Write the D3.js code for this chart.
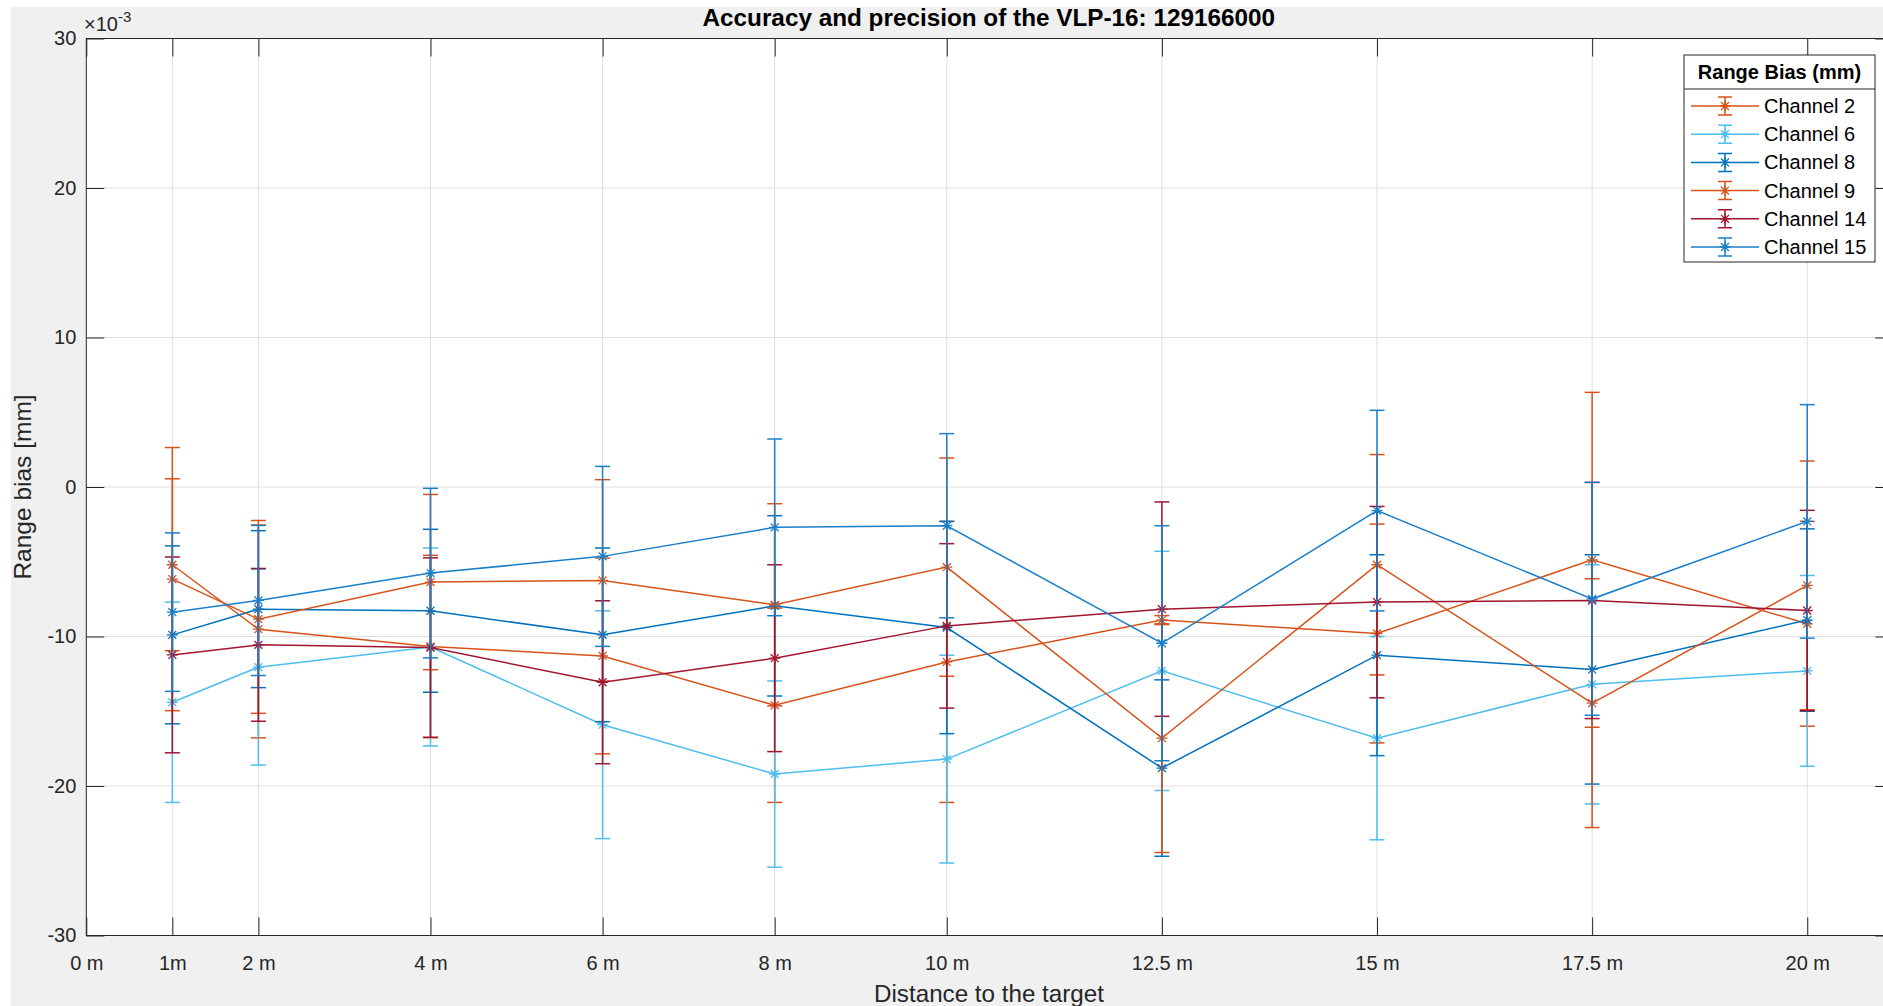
<!DOCTYPE html>
<html>
<head>
<meta charset="utf-8">
<script src="https://cdn.jsdelivr.net/npm/d3@7"></script>
<style>
  body { margin: 0; background: #fff; }
  svg { display: block; font-family: 'Liberation Sans', Arial, Helvetica, sans-serif; }
</style>
</head>
<body>
<div id="chart"></div>
<script>
// distances (m) where the target was measured
const distances = [1, 2, 4, 6, 8, 10, 12.5, 15, 17.5, 20]
const xTickValues = [0, 1, 2, 4, 6, 8, 10, 12.5, 15, 17.5, 20]
const xTickLabels = ['0 m', '1m', '2 m', '4 m', '6 m', '8 m', '10 m', '12.5 m', '15 m', '17.5 m', '20 m']
const yTickValues = [-30, -20, -10, 0, 10, 20, 30]

const channels = ['Channel 2', 'Channel 6', 'Channel 8', 'Channel 9', 'Channel 14', 'Channel 15']

// range bias, x 10^-3
const ch2Bias = [-5.2, -9.51, -10.67, -11.3, -14.6, -11.7, -8.9, -9.8, -4.87, -9.15]
const ch2Std = [5.75, 7.27, 6.1, 6.55, 6.5, 9.4, 0.3, 7.32, 11.2, 6.85]
const ch6Bias = [-14.4, -12.05, -10.7, -15.9, -19.2, -18.2, -12.3, -16.8, -13.2, -12.3]
const ch6Std = [6.7, 6.55, 6.62, 7.62, 6.23, 6.95, 8.0, 6.8, 8.0, 6.38]
const ch8Bias = [-9.89, -8.17, -8.28, -9.89, -7.95, -9.4, -18.8, -11.25, -12.2, -8.9]
const ch8Std = [5.95, 5.25, 5.45, 5.81, 6.03, 7.1, 5.9, 6.72, 7.67, 6.1]
const ch9Bias = [-6.16, -8.84, -6.36, -6.25, -7.88, -5.36, -16.8, -5.2, -14.46, -6.58]
const ch9Std = [8.8, 6.3, 5.86, 6.74, 6.76, 7.3, 7.65, 7.37, 8.32, 8.32]
const ch14Bias = [-11.23, -10.56, -10.74, -13.06, -11.45, -9.29, -8.17, -7.7, -7.59, -8.26]
const ch14Std = [6.55, 5.11, 6.0, 5.45, 6.25, 5.5, 7.17, 6.4, 7.9, 6.7]
const ch15Bias = [-8.37, -7.59, -5.76, -4.64, -2.7, -2.59, -10.45, -1.58, -7.48, -2.3]
const ch15Std = [5.3, 5.02, 5.67, 6.02, 5.91, 6.16, 7.86, 6.71, 7.79, 7.81]

const series = [
  { name: channels[0], bias: ch2Bias, std: ch2Std },
  { name: channels[1], bias: ch6Bias, std: ch6Std },
  { name: channels[2], bias: ch8Bias, std: ch8Std },
  { name: channels[3], bias: ch9Bias, std: ch9Std },
  { name: channels[4], bias: ch14Bias, std: ch14Std },
  { name: channels[5], bias: ch15Bias, std: ch15Std }
]

const width = 1883,
  height = 1006
const mLeft = 86.3,
  mTop = 38.5,
  mRight = 1893.3,
  mBottom = 935.5

const color = d3
  .scaleOrdinal()
  .domain(channels)
  .range(['#D95319', '#4DBEEE', '#0072BD', '#D95319', '#A2142F', '#1A7FC9'])

const svg = d3
  .select('#chart')
  .append('svg')
  .attr('width', width)
  .attr('height', height)

// figure background (white strip left/top like the screenshot)
svg
  .append('rect')
  .attr('x', 11)
  .attr('y', 7)
  .attr('width', width)
  .attr('height', height)
  .attr('fill', '#f0f0f0')

const x = d3.scaleLinear().domain([0, 21]).range([mLeft, mRight])
const y = d3.scaleLinear().domain([-30, 30]).range([mBottom, mTop])

svg
  .append('rect')
  .attr('x', mLeft)
  .attr('y', mTop)
  .attr('width', mRight - mLeft)
  .attr('height', mBottom - mTop)
  .attr('fill', '#fff')

// grid
const grid = svg.append('g').attr('stroke', '#dfdfdf').attr('stroke-width', 1)
grid
  .selectAll('.vg')
  .data(xTickValues.slice(1))
  .enter()
  .append('line')
  .attr('x1', d => x(d))
  .attr('x2', d => x(d))
  .attr('y1', mTop)
  .attr('y2', mBottom)
grid
  .selectAll('.hg')
  .data(yTickValues.slice(1, -1))
  .enter()
  .append('line')
  .attr('x1', mLeft)
  .attr('x2', mRight)
  .attr('y1', d => y(d))
  .attr('y2', d => y(d))

// axes
const axisColor = '#262626'
const styleAxis = g => {
  g.select('.domain').remove()
  g.selectAll('line').attr('stroke', axisColor)
  g.selectAll('text').attr('fill', axisColor).style('font-size', '20px')
}

svg
  .append('g')
  .attr('transform', 'translate(0,' + mBottom + ')')
  .call(
    d3
      .axisBottom(x)
      .tickValues(xTickValues)
      .tickFormat((d, i) => xTickLabels[i])
      .tickSizeInner(-18)
      .tickSizeOuter(0)
      .tickPadding(20)
  )
  .call(styleAxis)

svg
  .append('g')
  .attr('transform', 'translate(0,' + mTop + ')')
  .call(
    d3
      .axisTop(x)
      .tickValues(xTickValues)
      .tickFormat('')
      .tickSizeInner(-18)
      .tickSizeOuter(0)
  )
  .call(styleAxis)

svg
  .append('g')
  .attr('transform', 'translate(' + mLeft + ',0)')
  .call(
    d3
      .axisLeft(y)
      .tickValues(yTickValues)
      .tickFormat(d => String(d))
      .tickSizeInner(-18)
      .tickSizeOuter(0)
      .tickPadding(10)
  )
  .call(styleAxis)

svg
  .append('g')
  .attr('transform', 'translate(' + mRight + ',0)')
  .call(
    d3
      .axisRight(y)
      .tickValues(yTickValues)
      .tickFormat('')
      .tickSizeInner(-18)
      .tickSizeOuter(0)
  )
  .call(styleAxis)

svg
  .append('rect')
  .attr('x', mLeft)
  .attr('y', mTop)
  .attr('width', mRight - mLeft)
  .attr('height', mBottom - mTop)
  .attr('fill', 'none')
  .attr('stroke', axisColor)
  .attr('stroke-width', 1)

// exponent
const expo = svg
  .append('text')
  .attr('x', 84)
  .attr('y', 31)
  .attr('fill', axisColor)
  .style('font-size', '20px')
expo.append('tspan').text('\u00d710')
expo
  .append('tspan')
  .attr('dy', -9)
  .style('font-size', '15px')
  .text('-3')

// title and labels
svg
  .append('text')
  .attr('x', (mLeft + mRight) / 2 - 1)
  .attr('y', 26)
  .attr('text-anchor', 'middle')
  .attr('font-weight', 'bold')
  .style('font-size', '24.3px')
  .attr('fill', '#000')
  .text('Accuracy and precision of the VLP-16: 129166000')

svg
  .append('text')
  .attr('x', 989)
  .attr('y', 1002)
  .attr('text-anchor', 'middle')
  .style('font-size', '24.2px')
  .attr('fill', axisColor)
  .text('Distance to the target')

svg
  .append('text')
  .attr('transform', 'translate(31,487)rotate(-90)')
  .attr('text-anchor', 'middle')
  .style('font-size', '24.5px')
  .attr('fill', axisColor)
  .text('Range bias [mm]')

// asterisk marker: + and x overlaid
const r = 5.5,
  rd = r * 0.72
const asterisk =
  'M0,' + -r + 'V' + r + 'M' + -r + ',0H' + r +
  'M' + -rd + ',' + -rd + 'L' + rd + ',' + rd +
  'M' + -rd + ',' + rd + 'L' + rd + ',' + -rd

const capW = 7.5
const line = d3
  .line()
  .x(d => x(d.dist))
  .y(d => y(d.bias))

const plot = svg.append('g')

series.forEach(s => {
  const pts = distances.map((d, i) => ({ dist: d, bias: s.bias[i], std: s.std[i] }))
  const g = plot
    .append('g')
    .attr('stroke', color(s.name))
    .attr('stroke-width', 1.5)
    .attr('fill', 'none')

  const eb = g
    .selectAll('.eb')
    .data(pts)
    .enter()
    .append('g')
  eb.append('line')
    .attr('x1', d => x(d.dist))
    .attr('x2', d => x(d.dist))
    .attr('y1', d => y(d.bias - d.std))
    .attr('y2', d => y(d.bias + d.std))
  eb.append('line')
    .attr('x1', d => x(d.dist) - capW)
    .attr('x2', d => x(d.dist) + capW)
    .attr('y1', d => y(d.bias + d.std))
    .attr('y2', d => y(d.bias + d.std))
  eb.append('line')
    .attr('x1', d => x(d.dist) - capW)
    .attr('x2', d => x(d.dist) + capW)
    .attr('y1', d => y(d.bias - d.std))
    .attr('y2', d => y(d.bias - d.std))

  g.append('path').attr('d', line(pts))

  g.selectAll('.mk')
    .data(pts)
    .enter()
    .append('path')
    .attr('d', asterisk)
    .attr('stroke-width', 1.3)
    .attr('transform', d => 'translate(' + x(d.dist) + ',' + y(d.bias) + ')')
})

// legend
const lgX = 1684,
  lgY = 55,
  lgW = 191,
  lgH = 207
const legend = svg.append('g')
legend
  .append('rect')
  .attr('x', lgX)
  .attr('y', lgY)
  .attr('width', lgW)
  .attr('height', lgH)
  .attr('fill', '#fff')
  .attr('stroke', axisColor)
  .attr('stroke-width', 1)
legend
  .append('text')
  .attr('x', lgX + lgW / 2)
  .attr('y', lgY + 24)
  .attr('text-anchor', 'middle')
  .attr('font-weight', 'bold')
  .style('font-size', '20px')
  .attr('fill', '#000')
  .text('Range Bias (mm)')
legend
  .append('line')
  .attr('x1', lgX)
  .attr('x2', lgX + lgW)
  .attr('y1', lgY + 34)
  .attr('y2', lgY + 34)
  .attr('stroke', axisColor)

const item = legend
  .selectAll('.item')
  .data(channels)
  .enter()
  .append('g')
  .attr('transform', (d, i) => 'translate(0,' + (106 + i * 28.2) + ')')

item.append('line')
  .attr('x1', 1691)
  .attr('x2', 1759)
  .attr('stroke', d => color(d))
  .attr('stroke-width', 1.5)
item.append('line')
  .attr('x1', 1725)
  .attr('x2', 1725)
  .attr('y1', -9)
  .attr('y2', 9)
  .attr('stroke', d => color(d))
  .attr('stroke-width', 1.5)
item.append('path')
  .attr('d', 'M1718,-9H1732M1718,9H1732')
  .attr('stroke', d => color(d))
  .attr('stroke-width', 1.5)
item.append('path')
  .attr('d', asterisk)
  .attr('transform', 'translate(1725,0)')
  .attr('fill', 'none')
  .attr('stroke', d => color(d))
  .attr('stroke-width', 1.3)
item.append('text')
  .attr('x', 1764)
  .attr('dy', '0.35em')
  .style('font-size', '20px')
  .attr('fill', '#000')
  .text(d => d)
</script>
</body>
</html>
